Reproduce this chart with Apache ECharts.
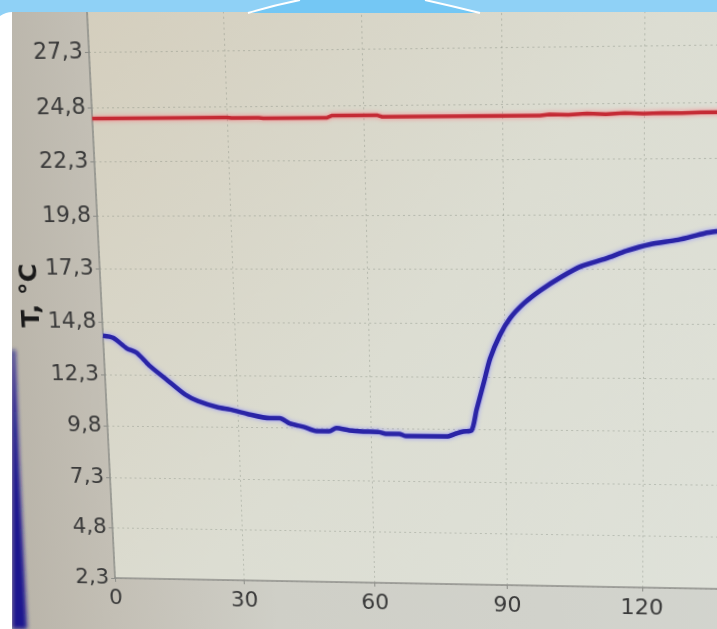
<!DOCTYPE html>
<html>
<head>
<meta charset="utf-8">
<script src="https://cdn.jsdelivr.net/npm/echarts@6/dist/echarts.min.js"></script>
<style>
  html, body { margin: 0; padding: 0; width: 717px; height: 629px; overflow: hidden; background: #cfd0c8; }
  #chart { position: absolute; left: 0; top: 0; width: 800px; height: 660px; transform-origin: 0 0; filter: blur(0.5px); }
  #frame { position: absolute; left: 0; top: 0; width: 717px; height: 629px; pointer-events: none; }
</style>
</head>
<body>
<div id="chart"></div>
<svg id="frame" viewBox="0 0 717 629" xmlns="http://www.w3.org/2000/svg">
  <defs>
    <filter id="soft" x="-50%" y="-10%" width="200%" height="120%"><feGaussianBlur stdDeviation="2.2"/></filter>
  </defs>
  <!-- left margin of the slide -->
  <rect x="0" y="0" width="12" height="629" fill="#ffffff"/>
  <!-- dark blue edge seen along the lower left -->
  <polygon points="12,350 15,350 19,460 27,629 12,629" fill="#1d168f" filter="url(#soft)"/>
  <rect x="0" y="330" width="12" height="299" fill="#ffffff"/>
  <!-- slide header band -->
  <path d="M0,0 H717 V12 H12 Q6,12 0,16 Z" fill="#8fd1f6"/>
  <path d="M248,13 Q275,5 300,0 H425 Q452,6 480,13 Z" fill="#74c7f4"/>
  <path d="M248,13 Q275,5 300,0" stroke="#ffffff" stroke-width="2" fill="none"/>
  <path d="M425,0 Q452,6 480,13" stroke="#ffffff" stroke-width="2" fill="none"/>
</svg>
<script>
// Logged temperatures over time (minutes)
const timeTicks = [0, 30, 60, 90, 120, 150];
const tempTicks = [2.3, 4.8, 7.3, 9.8, 12.3, 14.8, 17.3, 19.8, 22.3, 24.8, 27.3, 29.8];

// Ambient (red) sensor
const redTime = [0, 10, 20, 30, 31, 37, 38, 52, 53, 63, 64, 80, 98, 100, 104, 108, 112, 116, 120, 124, 128, 132, 138];
const redTemp = [24.3, 24.3, 24.3, 24.3, 24.27, 24.27, 24.25, 24.25, 24.34, 24.34, 24.27, 24.27, 24.27, 24.32, 24.3, 24.34, 24.31, 24.35, 24.32, 24.34, 24.33, 24.36, 24.35];

// Sample (blue) sensor
const blueTime = [0, 2.3, 5.3, 7.5, 10.2, 13.9, 18.2, 21, 25.5, 28.3, 32.1, 37.2, 39.5, 41.7, 44.8, 47.7, 50.6, 52.2, 55.1, 58.2, 61.8, 63.3, 66.3, 67.8, 76.8, 79, 80.6, 82.4, 83.6, 85.3, 86.7, 88.9, 91.2, 94.3, 97.9, 102.3, 106.7, 112, 116.4, 121.5, 127.4, 133.1, 136.2, 138];
const blueTemp = [14.15, 14.05, 13.55, 13.35, 12.75, 12.1, 11.35, 11.05, 10.75, 10.65, 10.45, 10.25, 10.25, 10.0, 9.85, 9.65, 9.65, 9.8, 9.7, 9.65, 9.63, 9.55, 9.55, 9.45, 9.45, 9.6, 9.7, 9.75, 10.75, 12.05, 13.15, 14.25, 15.05, 15.75, 16.35, 16.95, 17.45, 17.8, 18.15, 18.45, 18.65, 18.95, 19.05, 19.1];

const pairs = (xs, ys) => xs.map((x, i) => [x, ys[i]]);
const font = '"DejaVu Sans", Verdana, sans-serif';

const el = document.getElementById('chart');
const chart = echarts.init(el, null, { renderer: 'canvas' });

chart.setOption({
  animation: false,
  backgroundColor: {
    type: 'linear', x: 0, y: 0, x2: 1, y2: 0,
    colorStops: [
      { offset: 0, color: '#b8b3a8' },
      { offset: 0.14, color: '#c3bfb5' },
      { offset: 0.35, color: '#cfcfc7' },
      { offset: 1, color: '#d3d5cf' }
    ]
  },
  grid: {
    left: 113, top: 0, width: 661, height: 578,
    show: true, borderWidth: 0,
    backgroundColor: {
      type: 'linear', x: 0, y: 0, x2: 1, y2: 1,
      colorStops: [
        { offset: 0, color: '#d4cebd' },
        { offset: 0.5, color: '#dcddd2' },
        { offset: 1, color: '#dfe2da' }
      ]
    }
  },
  xAxis: {
    type: 'value',
    min: timeTicks[0], max: timeTicks[timeTicks.length - 1], interval: 30,
    axisLine: { lineStyle: { color: '#8e8f8a', width: 1.5 } },
    axisTick: { show: true, length: 4, lineStyle: { color: '#8e8f8a' } },
    axisLabel: { color: '#3a3a3a', fontSize: 22, fontFamily: font, margin: 10 },
    splitLine: { show: true, lineStyle: { color: 'rgba(120,128,118,0.35)', type: [2, 3], width: 1 } }
  },
  yAxis: {
    type: 'value',
    min: tempTicks[0], max: tempTicks[tempTicks.length - 1], interval: 2.5,
    name: 'T, °C', nameLocation: 'middle', nameGap: 58, nameRotate: 90, nameMoveOverlap: false,
    nameTextStyle: { color: '#1a1a1a', fontSize: 25, fontWeight: 'bold', fontFamily: font },
    axisLine: { show: true, lineStyle: { color: '#8e8f8a', width: 1.5 } },
    axisTick: { show: true, length: 4, lineStyle: { color: '#8e8f8a' } },
    axisLabel: {
      color: '#3a3a3a', fontSize: 22, fontFamily: font, margin: 6,
      formatter: v => v.toFixed(1).replace('.', ',')
    },
    splitLine: { show: true, lineStyle: { color: 'rgba(120,128,118,0.35)', type: [2, 3], width: 1 } }
  },
  series: [
    {
      type: 'line', data: pairs(redTime, redTemp), showSymbol: false,
      lineStyle: { color: '#c42a34', width: 3.5, shadowColor: 'rgba(255,110,120,0.8)', shadowBlur: 4 }
    },
    {
      type: 'line', data: pairs(blueTime, blueTemp), showSymbol: false, smooth: 0.25,
      lineStyle: { color: '#2a24a6', width: 4.5, shadowColor: 'rgba(140,140,255,0.9)', shadowBlur: 4 }
    }
  ]
});

// Camera perspective: map the plot's corner values onto the photographed screen quad.
function homography(src, dst) {
  const A = [], b = [];
  for (let i = 0; i < 4; i++) {
    const [x, y] = src[i], [u, v] = dst[i];
    A.push([x, y, 1, 0, 0, 0, -u * x, -u * y]); b.push(u);
    A.push([0, 0, 0, x, y, 1, -v * x, -v * y]); b.push(v);
  }
  const n = 8;
  for (let c = 0; c < n; c++) {
    let p = c;
    for (let r = c + 1; r < n; r++) if (Math.abs(A[r][c]) > Math.abs(A[p][c])) p = r;
    [A[c], A[p]] = [A[p], A[c]]; [b[c], b[p]] = [b[p], b[c]];
    for (let r = 0; r < n; r++) {
      if (r === c) continue;
      const f = A[r][c] / A[c][c];
      for (let k = c; k < n; k++) A[r][k] -= f * A[c][k];
      b[r] -= f * b[c];
    }
  }
  return b.map((v, i) => v / A[i][i]);
}

const corners = [[0, 2.3], [120, 2.3], [120, 27.3], [0, 27.3]];
const screenQuad = [[115, 578], [642, 587.5], [644, 46], [89, 52.5]];
const src = corners.map(c => chart.convertToPixel({ gridIndex: 0 }, c));
const h = homography(src, screenQuad);
el.style.transform = `matrix3d(${h[0]},${h[3]},0,${h[6]},${h[1]},${h[4]},0,${h[7]},0,0,1,0,${h[2]},${h[5]},0,1)`;
</script>
</body>
</html>
